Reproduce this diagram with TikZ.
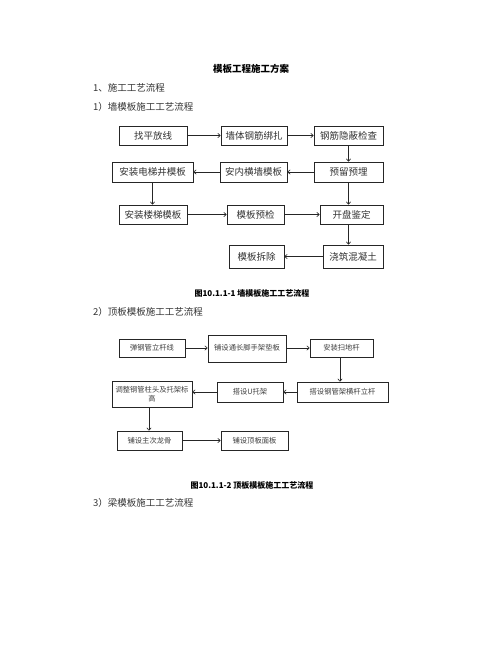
\documentclass[tikz,border=0pt]{standalone}
\usepackage{fontspec}
\setmainfont{Noto Sans CJK SC}
\usetikzlibrary{arrows.meta}
\begin{document}
\begin{tikzpicture}[x=1pt,y=-1pt,
  boxA/.style={draw=black!85,line width=0.6pt,inner sep=0pt,minimum height=19pt,font=\fontsize{9.5}{10}\selectfont,text=black!80,align=center},
  boxB/.style={draw=black!85,line width=0.6pt,inner sep=0pt,minimum height=19pt,font=\fontsize{7.3}{9}\selectfont,text=black!75,align=center},
  arr/.style={draw=black!85,line width=0.6pt,-{Straight Barb[length=2.5pt,width=4.5pt]}},
  body/.style={anchor=west,font=\fontsize{9.5}{11}\selectfont,text=black!80,inner sep=0pt},
  captext/.style={font=\bfseries\fontsize{8}{9}\selectfont,inner sep=0pt}]
\useasboundingbox (0,0) rectangle (502,649);
\fill[white] (0,0) rectangle (502,649);

\node[font=\bfseries\fontsize{9.5}{11}\selectfont,inner sep=0pt] (title) at (251,69) {模板工程施工方案};
\node[body] (h1) at (93,88) {1、施工工艺流程};
\node[body] (h2) at (93,107) {1）墙模板施工工艺流程};

% diagram 1
\node[boxA,minimum width=68pt] (a1) at (153,135.5) {找平放线};
\node[boxA,minimum width=66pt] (a2) at (254,135.5) {墙体钢筋绑扎};
\node[boxA,minimum width=69pt] (a3) at (348.5,135.5) {钢筋隐蔽检查};
\node[boxA,minimum width=81pt,minimum height=20pt] (b1) at (152.5,172) {安装电梯井模板};
\node[boxA,minimum width=67pt,minimum height=20pt] (b2) at (253.5,172) {安内横墙模板};
\node[boxA,minimum width=69pt,minimum height=20pt] (b3) at (348.5,172) {预留预埋};
\node[boxA,minimum width=68pt] (c1) at (153,214.5) {安装楼梯模板};
\node[boxA,minimum width=57pt] (c2) at (255.5,214.5) {模板预检};
\node[boxA,minimum width=63pt] (c3) at (351.5,214.5) {开盘鉴定};
\node[boxA,minimum width=55pt,minimum height=23pt] (d1) at (256.5,256.5) {模板拆除};
\node[boxA,minimum width=60pt,minimum height=23pt] (d2) at (353,256.5) {浇筑混凝土};

\draw[arr] (a1) -- (a2);
\draw[arr] (a2) -- (a3);
\draw[arr] (a3.south) -- (a3.south |- b3.north);
\draw[arr] (b3) -- (b2);
\draw[arr] (b2) -- (b1);
\draw[arr] (b1.south) -- (b1.south |- c1.north);
\draw[arr] (c1) -- (c2);
\draw[arr] (c2) -- (c3);
\draw[arr] (b3.south) -- (b3.south |- c3.north);
\draw[arr] (b3.south |- c3.south) -- (b3.south |- d2.north);
\draw[arr] (d2) -- (d1);

\node[captext] (cap1) at (252,293) {图10.1.1-1 墙模板施工工艺流程};
\node[body] (h3) at (93,312) {2）顶板模板施工工艺流程};

% diagram 2
\node[boxB,minimum width=66pt,minimum height=18pt] (e1) at (152,348) {弹钢管立杆线};
\node[boxB,minimum width=78pt,minimum height=27pt,text depth=3pt] (e2) at (247,348.5) {铺设通长脚手架垫板};
\node[boxB,minimum width=63pt,minimum height=18pt] (e3) at (341.5,348) {安装扫地杆};
\node[boxB,minimum width=80pt,minimum height=26pt,text width=80pt] (f1) at (152,394) {调整钢管柱头及托架标\\高};
\node[boxB,minimum width=66pt,minimum height=20pt] (f2) at (250,392) {搭设U托架};
\node[boxB,minimum width=91pt,minimum height=20pt] (f3) at (342.5,392) {搭设钢管架横杆立杆};
\node[boxB,minimum width=65pt] (g1) at (149.5,440.5) {铺设主次龙骨};
\node[boxB,minimum width=67pt] (g2) at (254.5,440.5) {铺设顶板面板};

\draw[arr] (e1) -- (e1 -| e2.west);
\draw[arr] (e2.east |- e3) -- (e3);
\draw[arr] ([xshift=-1.5pt]e3.south) -- ([xshift=-1.5pt]e3.south |- f3.north);
\draw[arr] (f3) -- (f2);
\draw[arr] (f2.west) -- (f2.west -| f1.east);
\draw[arr] ([xshift=-3pt]f1.south) -- ([xshift=-3pt]f1.south |- g1.north);
\draw[arr] (g1) -- (g2);

\node[captext] (cap2) at (252,485) {图10.1.1-2 顶板模板施工工艺流程};
\node[body] (h4) at (93,503) {3）梁模板施工工艺流程};
\end{tikzpicture}
\end{document}
